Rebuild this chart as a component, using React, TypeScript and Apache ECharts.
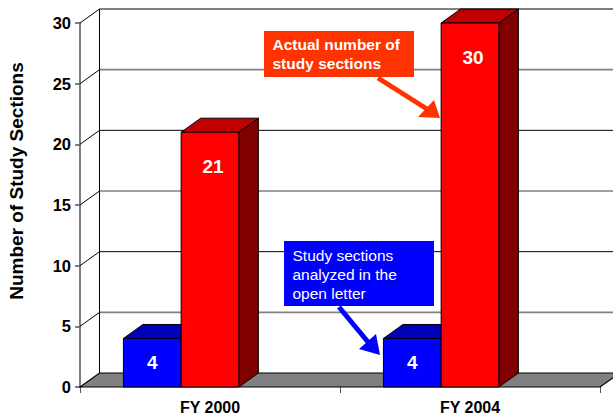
import React, { useEffect, useRef } from "react";
import * as echarts from "echarts";

const categories = ["FY 2000", "FY 2004"];
const analyzedValues = [4, 4];
const actualValues = [21, 30];
const yTicks = [0, 5, 10, 15, 20, 25, 30];

const FONT = "'Liberation Sans', Arial, Helvetica, sans-serif";
const DX = 19.5;
const DY = -14;

function backdropRender(params: any, api: any) {
  const cs = params.coordSys;
  const x0 = cs.x;
  const x1 = cs.x + cs.width;
  const yFloor = api.coord([0, 0])[1];
  const yTop = api.coord([0, yTicks[yTicks.length - 1]])[1];
  const children: any[] = [];
  yTicks.forEach((v) => {
    if (v === 0) return;
    const y = api.coord([0, v])[1];
    children.push({
      type: "line",
      shape: { x1: x0, y1: y, x2: x0 + DX, y2: y + DY },
      style: { stroke: "#000", lineWidth: 1 },
    });
    children.push({
      type: "line",
      shape: { x1: x0 + DX, y1: y + DY, x2: x1 + DX + 30, y2: y + DY },
      style: { stroke: v % 10 === 0 ? "#000" : "#808080", lineWidth: v % 10 === 0 ? 1 : 1.6 },
    });
  });
  children.push({
    type: "line",
    shape: { x1: x0 + DX, y1: yTop + DY, x2: x0 + DX, y2: yFloor + DY },
    style: { stroke: "#000", lineWidth: 1 },
  });
  children.push({
    type: "polygon",
    shape: {
      points: [
        [x0, yFloor],
        [x0 + DX, yFloor + DY],
        [x1 + DX, yFloor + DY],
        [x1, yFloor],
      ],
    },
    style: { fill: "#808080", stroke: "#000", lineWidth: 1.2 },
  });
  return { type: "group", children };
}

function makeBarRender(offsetFrac: number, front: string, top: string, side: string, labelMode: string) {
  return function (params: any, api: any) {
    const ci = api.value(0);
    const v = api.value(1);
    const c = api.coord([ci, v]);
    const base = api.coord([ci, 0]);
    const bw = api.size([1, 0])[0];
    const xl = c[0] + offsetFrac * bw;
    const w = 0.222 * bw;
    const xr = xl + w;
    const yt = c[1];
    const yb = base[1];
    const stroke = { stroke: "#000", lineWidth: 1 };
    const ly = labelMode === "middle" ? (yt + yb) / 2 : yt + 34;
    const lx = labelMode === "middle" ? xl + w / 2 : xl + w / 2 + 3;
    return {
      type: "group",
      children: [
        {
          type: "polygon",
          shape: { points: [[xr, yt], [xr + DX, yt + DY], [xr + DX, yb + DY], [xr, yb]] },
          style: { fill: side, ...stroke },
        },
        {
          type: "polygon",
          shape: { points: [[xl, yt], [xl + DX, yt + DY], [xr + DX, yt + DY], [xr, yt]] },
          style: { fill: top, ...stroke },
        },
        {
          type: "rect",
          shape: { x: xl, y: yt, width: w, height: yb - yt },
          style: { fill: front, ...stroke },
        },
        {
          type: "text",
          style: {
            text: String(v),
            x: lx,
            y: ly,
            fill: "#fff",
            fontSize: 19,
            fontWeight: "bold",
            fontFamily: FONT,
            align: "center",
            verticalAlign: "middle",
            textAlign: "center",
            textVerticalAlign: "middle",
          },
        },
      ],
    };
  };
}

export default function App() {
  const ref = useRef<HTMLDivElement>(null);
  useEffect(() => {
    if (!ref.current) return;
    const chart = echarts.init(ref.current, null, { renderer: "svg" });
    const option: any = {
      animation: false,
      backgroundColor: "#fff",
      grid: { left: 80, right: 13, top: 23, bottom: 30, containLabel: false },
      xAxis: {
        type: "category",
        data: categories,
        boundaryGap: true,
        axisLine: { show: false },
        axisTick: { show: true, length: 6, alignWithLabel: false, lineStyle: { color: "#555" } },
        axisLabel: {
          margin: 12,
          color: "#000",
          fontSize: 16,
          fontWeight: "bold",
          fontFamily: FONT,
        },
        splitLine: { show: false },
      },
      yAxis: {
        type: "value",
        min: 0,
        max: 30,
        interval: 5,
        axisLine: { show: true, lineStyle: { color: "#555", width: 1.5 } },
        axisTick: { show: true, length: 5, lineStyle: { color: "#555", width: 1.5 } },
        axisLabel: {
          margin: 9,
          color: "#000",
          fontSize: 16.5,
          fontWeight: "bold",
          fontFamily: FONT,
        },
        splitLine: { show: false },
      },
      series: [
        {
          type: "custom",
          name: "backdrop",
          clip: false,
          silent: true,
          renderItem: backdropRender,
          data: [[0, 0]],
          encode: { x: 0, y: 1 },
          z: 1,
        },
        {
          type: "custom",
          name: "Study sections analyzed in the open letter",
          clip: false,
          renderItem: makeBarRender(-0.333, "#0000FF", "#0000B8", "#00007A", "middle"),
          data: analyzedValues.map((v, i) => [i, v]),
          encode: { x: 0, y: 1 },
          z: 2,
        },
        {
          type: "custom",
          name: "Actual number of study sections",
          clip: false,
          renderItem: makeBarRender(-0.111, "#FF0000", "#C00000", "#800000", "top"),
          data: actualValues.map((v, i) => [i, v]),
          encode: { x: 0, y: 1 },
          z: 3,
        },
      ],
      graphic: [
        {
          type: "text",
          x: 16,
          y: 181,
          rotation: Math.PI / 2,
          style: {
            text: "Number of Study Sections",
            fill: "#000",
            fontSize: 19,
            fontWeight: "bold",
            fontFamily: FONT,
            align: "center",
            verticalAlign: "middle",
            textAlign: "center",
            textVerticalAlign: "middle",
          },
          z: 10,
        },
        {
          type: "rect",
          shape: { x: 264, y: 31, width: 150, height: 46 },
          style: { fill: "#FF3300" },
          z: 10,
        },
        {
          type: "text",
          x: 272.5,
          y: 35.8,
          style: {
            text: "Actual number of\nstudy sections",
            fill: "#fff",
            fontSize: 15.5,
            fontWeight: "bold",
            fontFamily: FONT,
            lineHeight: 18.3,
            align: "left",
            verticalAlign: "top",
            textAlign: "left",
            textVerticalAlign: "top",
          },
          z: 11,
        },
        {
          type: "line",
          shape: { x1: 378, y1: 78, x2: 427, y2: 109 },
          style: { stroke: "#FF3300", lineWidth: 5 },
          z: 10,
        },
        {
          type: "polygon",
          shape: { points: [[440, 118], [418, 117], [434, 100]] },
          style: { fill: "#FF3300" },
          z: 10,
        },
        {
          type: "rect",
          shape: { x: 284, y: 241, width: 150, height: 65 },
          style: { fill: "#0000FF" },
          z: 10,
        },
        {
          type: "text",
          x: 292.5,
          y: 245.5,
          style: {
            text: "Study sections\nanalyzed in the\nopen letter",
            fill: "#fff",
            fontSize: 15.5,
            fontWeight: "normal",
            fontFamily: FONT,
            lineHeight: 19,
            align: "left",
            verticalAlign: "top",
            textAlign: "left",
            textVerticalAlign: "top",
          },
          z: 11,
        },
        {
          type: "line",
          shape: { x1: 339, y1: 307, x2: 368, y2: 342 },
          style: { stroke: "#0000FF", lineWidth: 5 },
          z: 10,
        },
        {
          type: "polygon",
          shape: { points: [[380, 355], [359, 349], [376, 334]] },
          style: { fill: "#0000FF" },
          z: 10,
        },
      ],
    };
    chart.setOption(option);
    return () => chart.dispose();
  }, []);
  return <div ref={ref} style={{ width: 613, height: 417, position: "absolute", left: 0, top: 0 }} />;
}
